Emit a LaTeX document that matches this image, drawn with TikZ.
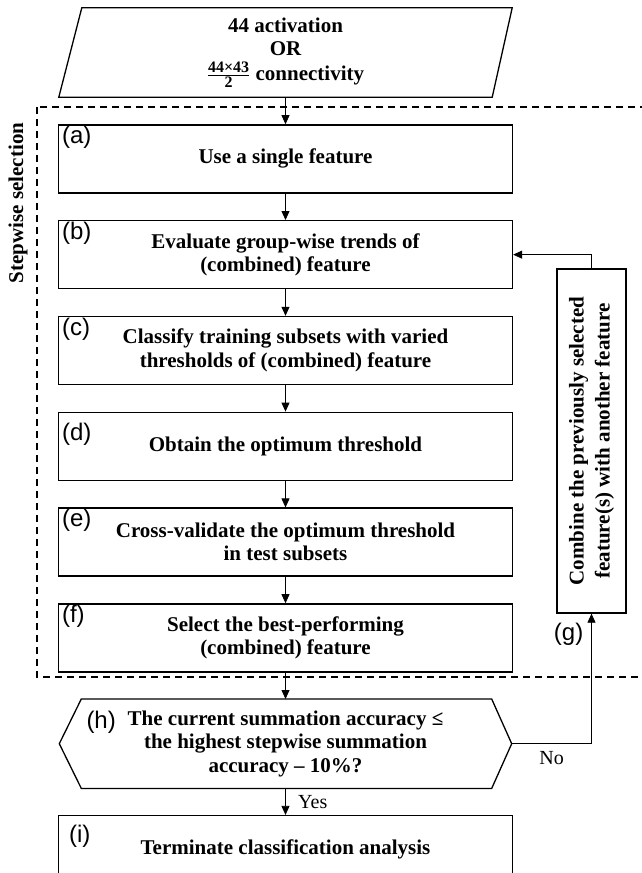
\documentclass[tikz,border=0pt]{standalone}
\usepackage{amsmath}
\usepackage{fontspec}
\setmainfont{Liberation Serif}
\newfontfamily\tagfont{Liberation Sans}
\usetikzlibrary{arrows.meta,positioning,calc}

\begin{document}
\begin{tikzpicture}[x=1pt,y=-1pt,
    node distance=26.5pt,
    txt/.style={font=\bfseries\fontsize{21}{23.5}\selectfont, align=center},
    box/.style={txt, draw, line width=1.3pt, minimum width=454pt, minimum height=68pt},
    tag/.style={anchor=north west, inner sep=0pt, xshift=4pt, yshift=-2pt, font=\tagfont\fontsize{24}{26}\selectfont},
    link/.style={-{Triangle[width=8pt,length=9pt]}, line width=0.8pt},
    answer/.style={font=\fontsize{20}{22}\selectfont}]
  \useasboundingbox (0,0) rectangle (642,873);
  \clip (0,0) rectangle (642,873);
  % Input
  \node[txt, minimum width=453pt, minimum height=89pt] (input) at (285.5,52.5)
    {44 activation\\OR\\[1pt]$\frac{\text{\bfseries\fontsize{16}{16}\selectfont 44×43}}{\text{\bfseries\fontsize{16}{16}\selectfont 2}}$ connectivity};
  \draw[line width=1.3pt] (input.south west) -- ($(input.north west)+(23,0)$) -- (input.north east)
    -- ($(input.south east)+(-20,0)$) -- cycle;
  % Stepwise steps
  \node[box, below=27pt of input, label={[tag]north west:(a)}] (a) {Use a single feature};
  \node[box, below=of a, label={[tag]north west:(b)}] (b) {Evaluate group-wise trends of\\(combined) feature};
  \node[box, below=of b, label={[tag]north west:(c)}] (c) {Classify training subsets with varied\\thresholds of (combined) feature};
  \node[box, below=of c, label={[tag, yshift=-9pt]north west:(d)}] (d) {Obtain the optimum threshold};
  \node[box, below=of d, label={[tag]north west:(e)}] (e) {Cross-validate the optimum threshold\\in test subsets};
  \node[box, below=of e, label={[tag]north west:(f)}] (f) {Select the best-performing\\(combined) feature};
  % Decision
  \node[txt, minimum width=452pt, minimum height=89pt, below=of f] (h)
    {The current summation accuracy ≤\\the highest stepwise summation\\accuracy – 10\%?};
  \draw[line width=1.3pt] (h.west) -- ($(h.north west)+(22,0)$) -- ($(h.north east)+(-20,0)$)
    -- (h.east) -- ($(h.south east)+(-20,0)$) -- ($(h.south west)+(22,0)$) -- cycle;
  \node[tag, anchor=west, xshift=0pt, yshift=0pt] (htag) at ($(h.west)+(23,-23)$) {(h)};
  % End
  \node[box, below=of h, label={[tag, xshift=7pt, yshift=-8pt]north west:(i)}] (i) {Terminate classification analysis};
  % Loop back
  \node[box, minimum width=344pt, minimum height=69pt, rotate=90, font=\bfseries\fontsize{21}{26}\selectfont] (g) at (591.5,441)
    {Combine the previously selected\\feature(s) with another feature};
  \node[tag, anchor=east, xshift=0pt, yshift=0pt] (gtag) at ($(g.west)+(-12,19)$) {(g)};
  % Dashed frame
  \draw[dashed, dash pattern=on 7pt off 5pt, line width=1.1pt] (37,107) rectangle (660,677);
  \node[txt, rotate=90] (sel) at (18,203) {Stepwise selection};
  % Arrows
  \draw[link] (input) -- (a);
  \draw[link] (a) -- (b);
  \draw[link] (b) -- (c);
  \draw[link] (c) -- (d);
  \draw[link] (d) -- (e);
  \draw[link] (e) -- (f);
  \draw[link] (f) -- (h);
  \draw[link] (h.south) -- node[answer, right=9pt] {Yes} (i);
  \draw[link] (h.east) -| node[answer, pos=0.25, below=4pt] {No} (g.west);
  \draw[link] (g.east) |- (b.east);
\end{tikzpicture}
\end{document}
